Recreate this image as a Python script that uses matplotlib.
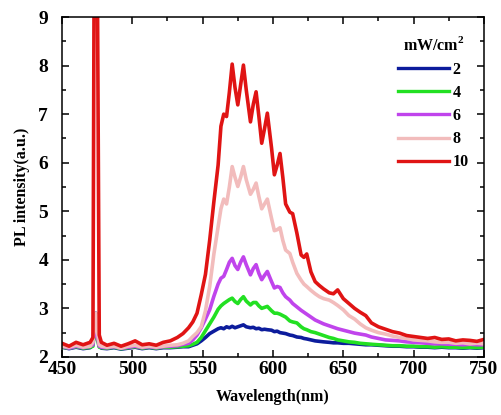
import matplotlib
matplotlib.use("Agg")
import matplotlib.pyplot as plt
from matplotlib.ticker import MultipleLocator

plt.rcParams["font.family"] = ["Liberation Serif", "DejaVu Serif"]
plt.rcParams["font.weight"] = "bold"
plt.rcParams["mathtext.fontset"] = "custom"
plt.rcParams["mathtext.rm"] = "Liberation Serif:bold"

# wavelength grid (nm), rows of 10
wl = [450, 455, 460, 465, 470, 472, 472.8, 474, 475.2, 476.5,
      478, 482, 487, 492, 497, 502, 507, 512, 517, 522,
      527, 532, 536, 540, 543, 546, 549, 552, 555, 558,
      561, 563, 565, 567, 569, 571, 573, 575, 577, 579,
      581, 584, 586, 588, 590, 592, 594, 596, 599, 601,
      603, 605, 607, 609, 612, 614, 617, 620, 622, 624,
      627, 630, 633, 636, 640, 643, 646, 650, 654, 658,
      662, 666, 670, 675, 680, 685, 690, 695, 700, 705,
      710, 715, 720, 725, 730, 735, 740, 745, 750]

p2 = [2.20, 2.17, 2.20, 2.17, 2.19, 2.25, 2.60, 2.90, 2.50, 2.22,
      2.18, 2.17, 2.19, 2.16, 2.18, 2.20, 2.17, 2.19, 2.17, 2.19,
      2.19, 2.20, 2.21, 2.21, 2.24, 2.27, 2.33, 2.40, 2.48, 2.53,
      2.58, 2.60, 2.58, 2.62, 2.60, 2.63, 2.60, 2.62, 2.64, 2.66,
      2.62, 2.60, 2.61, 2.58, 2.59, 2.56, 2.57, 2.56, 2.55, 2.52,
      2.53, 2.50, 2.49, 2.48, 2.45, 2.44, 2.41, 2.40, 2.38, 2.37,
      2.35, 2.33, 2.32, 2.31, 2.30, 2.29, 2.29, 2.28, 2.28, 2.27,
      2.26, 2.25, 2.25, 2.24, 2.23, 2.22, 2.22, 2.21, 2.21, 2.20,
      2.20, 2.19, 2.20, 2.19, 2.19, 2.18, 2.19, 2.18, 2.19]

p4 = [2.20, 2.18, 2.21, 2.18, 2.20, 2.22, 2.45, 2.60, 2.35, 2.20,
      2.19, 2.18, 2.20, 2.17, 2.19, 2.21, 2.18, 2.20, 2.18, 2.20,
      2.20, 2.21, 2.22, 2.23, 2.26, 2.30, 2.40, 2.54, 2.68, 2.82,
      2.98, 3.05, 3.10, 3.14, 3.18, 3.21, 3.14, 3.10, 3.18, 3.24,
      3.15, 3.07, 3.12, 3.12, 3.05, 3.00, 3.02, 3.04, 2.95, 2.90,
      2.90, 2.88, 2.85, 2.82, 2.74, 2.72, 2.70, 2.62, 2.58, 2.56,
      2.52, 2.50, 2.47, 2.44, 2.40, 2.38, 2.35, 2.33, 2.31, 2.30,
      2.28, 2.27, 2.26, 2.25, 2.24, 2.23, 2.23, 2.22, 2.22, 2.21,
      2.21, 2.20, 2.21, 2.20, 2.20, 2.19, 2.20, 2.19, 2.20]

p6 = [2.22, 2.18, 2.22, 2.19, 2.22, 2.25, 2.50, 2.70, 2.40, 2.22,
      2.20, 2.19, 2.21, 2.18, 2.20, 2.22, 2.19, 2.21, 2.19, 2.21,
      2.22, 2.23, 2.26, 2.28, 2.35, 2.45, 2.60, 2.78, 2.97, 3.25,
      3.50, 3.62, 3.66, 3.80, 3.95, 4.03, 3.88, 3.80, 3.95, 4.06,
      3.90, 3.69, 3.82, 3.90, 3.72, 3.59, 3.68, 3.76, 3.55, 3.42,
      3.45, 3.43, 3.32, 3.24, 3.17, 3.10, 3.03, 2.96, 2.92, 2.88,
      2.82, 2.76, 2.72, 2.68, 2.64, 2.61, 2.58, 2.55, 2.52, 2.49,
      2.47, 2.45, 2.41, 2.38, 2.35, 2.34, 2.33, 2.31, 2.30, 2.29,
      2.28, 2.27, 2.27, 2.26, 2.26, 2.25, 2.26, 2.25, 2.25]

p8 = [2.22, 2.20, 2.24, 2.20, 2.22, 2.30, 2.60, 2.90, 2.50, 2.25,
      2.22, 2.20, 2.22, 2.18, 2.22, 2.24, 2.20, 2.22, 2.20, 2.22,
      2.24, 2.25, 2.28, 2.33, 2.42, 2.50, 2.62, 2.95, 3.45, 4.12,
      4.68, 5.05, 5.25, 5.15, 5.50, 5.92, 5.70, 5.51, 5.70, 5.92,
      5.65, 5.35, 5.45, 5.58, 5.30, 5.05, 5.15, 5.25, 4.85, 4.60,
      4.62, 4.66, 4.40, 4.20, 4.13, 3.95, 3.72, 3.58, 3.50, 3.45,
      3.37, 3.30, 3.24, 3.20, 3.17, 3.12, 3.06, 2.97, 2.85, 2.78,
      2.68, 2.60, 2.55, 2.50, 2.47, 2.43, 2.40, 2.38, 2.35, 2.34,
      2.33, 2.31, 2.30, 2.30, 2.28, 2.29, 2.27, 2.28, 2.27]

p10 = [2.28, 2.22, 2.30, 2.25, 2.30, 2.40, 9.60, 9.60, 9.60, 2.45,
       2.30, 2.24, 2.28, 2.22, 2.27, 2.33, 2.25, 2.27, 2.24, 2.30,
       2.33, 2.40, 2.48, 2.60, 2.72, 2.90, 3.28, 3.70, 4.40, 5.20,
       5.95, 6.75, 7.00, 6.95, 7.45, 8.03, 7.55, 7.19, 7.60, 8.01,
       7.50, 6.84, 7.20, 7.46, 6.95, 6.40, 6.70, 7.02, 6.30, 5.75,
       5.95, 6.19, 5.70, 5.15, 4.98, 4.95, 4.55, 4.10, 4.05, 4.12,
       3.75, 3.55, 3.47, 3.40, 3.32, 3.30, 3.38, 3.20, 3.10, 3.00,
       2.92, 2.85, 2.70, 2.62, 2.57, 2.52, 2.49, 2.44, 2.42, 2.40,
       2.38, 2.40, 2.36, 2.37, 2.33, 2.35, 2.34, 2.32, 2.36]

labels = ["2", "4", "6", "8", "10"]
colors = ["#0c1c9c", "#22e022", "#c044ec", "#f2bcbc", "#e01414"]
series = [p2, p4, p6, p8, p10]

fig = plt.figure(figsize=(5.02, 4.15), dpi=100)
ax = fig.add_axes([0.1235, 0.14, 0.8405, 0.819])

for s, c, lab in zip(series, colors, labels):
    ax.plot(wl, s, color=c, lw=2.6, label=lab)

ax.set_xlim(450, 750)
ax.set_ylim(2, 9)
ax.xaxis.set_major_locator(MultipleLocator(50))
ax.xaxis.set_minor_locator(MultipleLocator(25))
ax.yaxis.set_major_locator(MultipleLocator(1))
ax.yaxis.set_minor_locator(MultipleLocator(0.5))
ax.tick_params(which="both", direction="in", top=True, right=True, width=1.1)
ax.tick_params(which="major", length=5, labelsize=14, pad=3)
ax.tick_params(which="minor", length=3)
ax.tick_params(axis="y", pad=10)
for sp in ax.spines.values():
    sp.set_linewidth(1.1)

ax.set_xlabel("Wavelength(nm)", fontsize=11.5, fontweight="bold", labelpad=8)
ax.set_ylabel("PL intensity(a.u.)", fontsize=11.5, fontweight="bold", labelpad=6)

leg = ax.legend(title="mW/cm$^2$", loc="upper right", frameon=False,
                bbox_to_anchor=(0.998, 0.985), handlelength=3.2,
                handletextpad=0.2, labelspacing=0.45,
                prop={"weight": "bold", "size": 11.5},
                title_fontproperties={"weight": "bold", "size": 11.5})
for line in leg.get_lines():
    line.set_linewidth(2.4)

fig.savefig("out.png", dpi=100)
